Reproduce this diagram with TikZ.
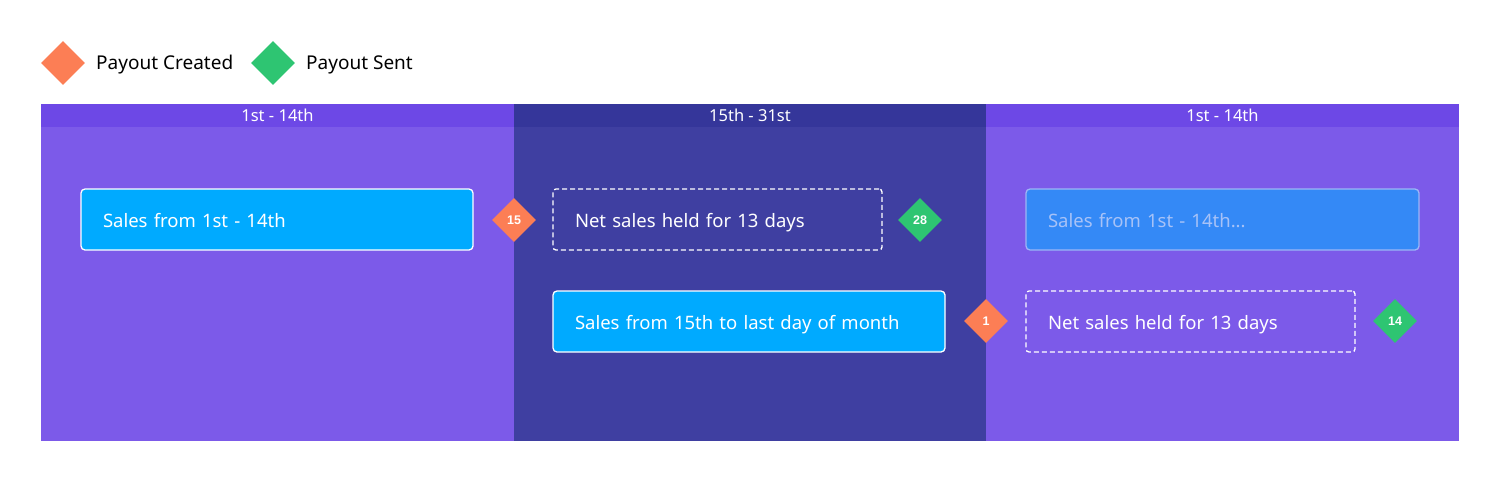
\documentclass[tikz,border=0pt]{standalone}
\usepackage{fontspec}
\setmainfont{Noto Sans}
\newfontfamily\numfont{Liberation Sans}
\usetikzlibrary{shapes.geometric}
\definecolor{hdrlight}{HTML}{6D48E6}
\definecolor{bodylight}{HTML}{7C5AE9}
\definecolor{hdrdark}{HTML}{35369A}
\definecolor{bodydark}{HTML}{3F3FA1}
\definecolor{salesblue}{HTML}{00AAFF}
\definecolor{fadeblue}{HTML}{3489F6}
\definecolor{fadetext}{HTML}{A7C2F7}
\definecolor{fadeborder}{HTML}{9DB6F6}
\definecolor{payorange}{HTML}{FC7E55}
\definecolor{paygreen}{HTML}{2EC572}
\tikzset{
  x=1pt, y=-1pt,
  hdrtext/.style={text=white, font=\fontsize{16.5}{18}\selectfont, inner sep=0pt},
  boxtext/.style={font=\fontsize{18.5}{22}\selectfont, align=left, inner xsep=22pt, inner ysep=0pt,
    text height=16pt, text depth=1pt, minimum height=61pt},
  salesbox/.style={boxtext, draw=white, line width=1.3pt, fill=salesblue, rounded corners=4pt,
    text=white},
  fadebox/.style={salesbox, draw=fadeborder, fill=fadeblue, text=fadetext},
  heldbox/.style={boxtext, draw=white, line width=1.3pt, dash pattern=on 5pt off 3pt, rounded corners=3pt,
    text=white},
  marker/.style={diamond, aspect=1, minimum width=44pt, minimum height=44pt, inner sep=0pt,
    text=white, font=\numfont\bfseries\fontsize{12.5}{13}\selectfont},
  created/.style={marker, fill=payorange},
  sent/.style={marker, fill=paygreen},
  legendtext/.style={anchor=west, inner sep=0pt, font=\fontsize{19}{22}\selectfont, text=black}
}
\begin{document}
\begin{tikzpicture}
\useasboundingbox (0,0) rectangle (1500,483);
\fill[white] (0,0) rectangle (1500,483);
% legend
\node[created] (lc) at (63,63) {};
\node[legendtext] (lct) at (96,65) {Payout Created};
\node[sent] (ls) at (273,63) {};
\node[legendtext] (lst) at (306,65) {Payout Sent};
% columns
\fill[bodylight] (41,104) rectangle (514,441);
\fill[bodydark] (514,104) rectangle (986,441);
\fill[bodylight] (986,104) rectangle (1459,441);
\fill[hdrlight] (41,104) rectangle (514,127);
\fill[hdrdark] (514,104) rectangle (986,127);
\fill[hdrlight] (986,104) rectangle (1459,127);
\node[hdrtext] (h1) at (277.5,115) {1st - 14th};
\node[hdrtext] (h2) at (750,115) {15th - 31st};
\node[hdrtext] (h3) at (1222.5,115) {1st - 14th};
% boxes
\node[salesbox, text width=348pt] (s1) at (277,219.5) {Sales from 1st - 14th};
\node[heldbox, text width=285pt] (n1) at (717.5,219.5) {Net sales held for 13 days};
\node[salesbox, text width=348pt] (s2) at (749,321.5) {Sales from 15th to last day of month};
\node[fadebox, text width=349pt] (s3) at (1222.5,219.5) {Sales from 1st - 14th...};
\node[heldbox, text width=285pt] (n2) at (1190.5,321.5) {Net sales held for 13 days};
% markers
\node[created] (c15) at (514,220) {15};
\node[sent] (p28) at (920,220) {28};
\node[created] (c1) at (986,321) {1};
\node[sent] (p14) at (1395,321) {14};
\end{tikzpicture}
\end{document}
